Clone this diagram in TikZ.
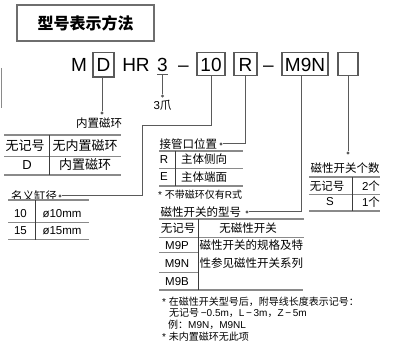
\documentclass[tikz,border=0pt]{standalone}
\usepackage{fontspec}
\setmainfont{Liberation Sans}
\newfontfamily\cjk{Noto Sans CJK SC}
\usetikzlibrary{positioning, calc}

\definecolor{linegray}{HTML}{5A5A5A}
\definecolor{rulegray}{HTML}{8A8A8A}
\definecolor{sepgray}{HTML}{3C3C3C}
\definecolor{titlegray}{HTML}{6E6E6E}

\begin{document}
\begin{tikzpicture}[
        x=1pt, y=-1pt,
        code/.style={
            anchor=base,
            inner sep=0pt,
            font=\fontsize{19}{22}\selectfont
        },
        codebox/.style={
            code,
            draw=linegray,
            line width=1.1pt,
            text height=16pt,
            text depth=0pt,
            inner ysep=3.5pt
        },
        tag/.style={
            inner sep=0pt,
            font=\cjk\fontsize{11.5}{13}\selectfont
        },
        cellA/.style={tag, font=\cjk\fontsize{13}{15}\selectfont},
        latin/.style={
            inner sep=0pt,
            font=\fontsize{11.5}{13}\selectfont
        },
        note/.style={
            inner sep=0pt,
            anchor=west,
            font=\fontsize{10}{12}\selectfont
        },
        dot/.style={
            circle,
            fill=linegray,
            inner sep=0pt,
            minimum size=3.2pt
        },
        conn/.style={draw=linegray, line width=1pt},
        thickrule/.style={draw=rulegray, line width=1.6pt},
        thinrule/.style={draw=rulegray, line width=0.8pt},
        colrule/.style={draw=sepgray, line width=0.9pt}
    ]

    \useasboundingbox (0,0) rectangle (393,347);

    \node[draw=titlegray, line width=1.2pt, minimum width=137pt, minimum height=36pt,
        inner sep=0pt, font=\cjk\bfseries\fontsize{16}{18}\selectfont] (title) at (85.5,23) {型号表示方法};

    \draw[rulegray, line width=1pt] (1.5,68) -- (1.5,108);

    \node[code] (m) at (79,72) {M};
    \node[codebox, minimum width=21pt, text depth=1.5pt] (boxD) at (103.5,72) {D};
    \node[code] (hr) at (136,72) {HR};
    \node[code] (three) at (162.5,72) {3};
    \node[code] (dashA) at (183.5,72) {–};
    \node[codebox, minimum width=28pt] (box10) at (211,72) {10};
    \node[codebox, minimum width=23pt] (boxR) at (245.5,72) {R};
    \node[code] (dashB) at (268.5,72) {–};
    \node[codebox, minimum width=46pt] (boxM) at (305,72) {M9N};
    \node[codebox, minimum width=20pt] (boxN) at (348,72) {};

    \node[dot] (dotD) at (102,113) {};
    \node[tag] (tagD) at (99,123) {内置磁环};
    \draw[conn] (boxD.south -| dotD) -- (dotD);

    \node[dot] (dot3) at (162.5,96) {};
    \node[latin] (tag3) at (162.5,105.5) {3{\cjk 爪}};
    \draw[conn] ([yshift=-2.5pt]three.base west) -- ([yshift=-2.5pt]three.base east);
    \draw[conn] ([yshift=-2.5pt]three.base) -- (dot3);

    \coordinate (k10) at (142,126);
    \node[dot] (dot10) at (60,196) {};
    \node[tag, left=1pt of dot10] (tag10) {名义缸径};
    \draw[conn] (box10.south) |- (k10) |- (dot10);

    \node[dot] (dotR) at (221,144) {};
    \node[tag, left=2pt of dotR] (tagR) {接管口位置};
    \draw[conn] (boxR.south) |- (dotR);

    \coordinate (kM) at (301,212);
    \node[dot] (dotM) at (247,212) {};
    \node[tag, left=4pt of dotM] (tagM) {磁性开关的型号};
    \draw[conn] (boxM.south -| kM) -- (kM) -- (dotM);

    \node[dot] (dotN) at (348,153) {};
    \node[tag] (tagN) at (345,168) {磁性开关个数};
    \draw[conn] (boxN.south) -- (dotN);

    \draw[thickrule] (4,135) -- (121,135);
    \draw[thinrule] (4,156) -- (121,156);
    \draw[thickrule] (4,175) -- (121,175);
    \draw[colrule] (49,135) -- (49,175);
    \node[cellA] (magA1) at (25,146) {无记号};
    \node[cellA] (magB1) at (85,146) {无内置磁环};
    \node[latin, font=\fontsize{13}{15}\selectfont] (magA2) at (27,165) {D};
    \node[cellA] (magB2) at (85,165) {内置磁环};

    \draw[thickrule] (8,200) -- (89,200);
    \draw[thinrule] (8,222) -- (89,222);
    \draw[thickrule] (8,239.5) -- (89,239.5);
    \draw[colrule] (35,200) -- (35,239.5);
    \node[latin] (boreA1) at (20.5,214) {10};
    \node[latin] (boreB1) at (62,214) {ø10mm};
    \node[latin] (boreA2) at (20.5,230.5) {15};
    \node[latin] (boreB2) at (62,230.5) {ø15mm};

    \draw[thickrule] (159,151) -- (243,151);
    \draw[thinrule] (159,168) -- (243,168);
    \draw[thickrule] (159,186) -- (243,186);
    \draw[colrule] (175,151) -- (175,186);
    \node[latin] (portA1) at (164,159.5) {R};
    \node[tag] (portB1) at (204,159.5) {主体侧向};
    \node[latin] (portA2) at (164,177) {E};
    \node[tag] (portB2) at (204,177) {主体端面};
    \node[note] (noteR) at (158,195) {* {\cjk 不带磁环仅有}R{\cjk 式}};

    \draw[thickrule] (159,219) -- (304,219);
    \draw[thinrule] (159,237) -- (304,237);
    \draw[thinrule] (159,252) -- (198,252);
    \draw[thinrule] (159,272) -- (198,272);
    \draw[thickrule] (159,290) -- (303,290);
    \draw[colrule] (198,219) -- (198,290);
    \node[tag] (swA1) at (178,228) {无记号};
    \node[tag] (swB1) at (248,228) {无磁性开关};
    \node[latin] (swA2) at (177,245.5) {M9P};
    \node[latin] (swA3) at (177,263.5) {M9N};
    \node[latin] (swA4) at (177,282) {M9B};
    \node[tag, anchor=west] (swB2) at (199.5,245.5) {磁性开关的规格及特};
    \node[tag, anchor=west] (swB3) at (199.5,263.5) {性参见磁性开关系列};

    \draw[thickrule] (309,177) -- (380,177);
    \draw[thinrule] (309,194) -- (380,194);
    \draw[thickrule] (309,211) -- (380,211);
    \draw[colrule] (352,177) -- (352,211);
    \node[tag] (cntA1) at (327,186) {无记号};
    \node[latin] (cntB1) at (371,186) {2{\cjk 个}};
    \node[latin] (cntA2) at (330,202) {S};
    \node[latin] (cntB2) at (371,202) {1{\cjk 个}};

    \node[note] (noteA) at (162,302) {* {\cjk 在磁性开关型号后，附导线长度表示记号：}};
    \node[note] (noteB) at (169,313) {{\cjk 无记号}\,−0.5m{\cjk ，}L\,−\,3m{\cjk ，}Z\,−\,5m};
    \node[note] (noteC) at (168,325) {{\cjk 例：}M9N{\cjk ，}M9NL};
    \node[note] (noteD) at (162,337) {* {\cjk 未内置磁环无此项}};

    \end{tikzpicture}
\end{document}
